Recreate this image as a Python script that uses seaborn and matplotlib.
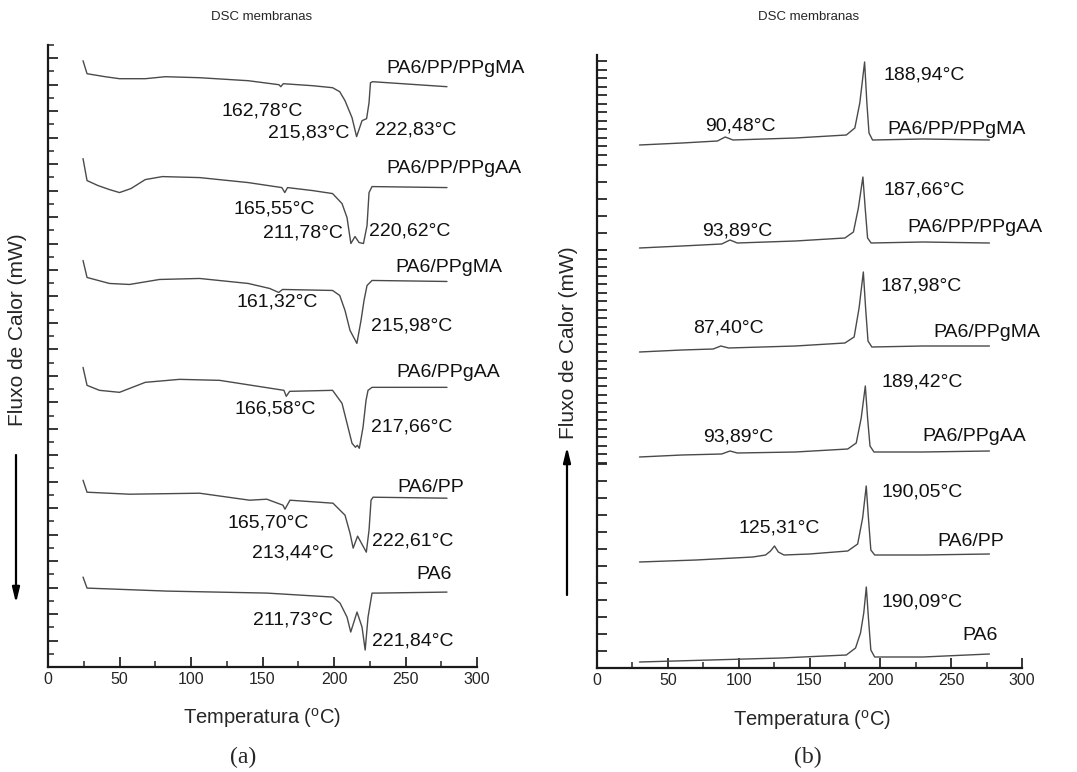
import numpy as np
import matplotlib
matplotlib.use("Agg")
import matplotlib.pyplot as plt
import seaborn as sns

# ---- (a) DSC, fusao (endotermas para baixo) ----
t_a1 = [24.5, 27.3, 40, 50, 68, 82, 106, 140, 161.5, 162.8, 164.5, 185, 199, 204, 207.7, 212.6, 215.8, 219.6, 222.8, 224.5, 225.5, 227, 279]
y_a1 = [607, 594, 591, 589, 589, 591, 590, 587, 583, 581, 584, 582, 580, 576, 567, 550, 531, 547, 549, 565, 585, 586, 581]

t_a2 = [24.5, 27.3, 35, 43, 50, 58, 68, 80, 106, 140, 163.5, 165.6, 167.5, 185, 199, 205.6, 209.1, 211.8, 214.7, 217.5, 220.6, 223.1, 224.5, 226.6, 279]
y_a2 = [509, 487, 482, 478, 475, 479, 488, 491, 490, 485, 480, 475, 480, 477, 474, 464, 450, 424, 431, 425, 424, 442, 475, 481, 480]

t_a3 = [24.5, 27.3, 43, 57, 78, 106, 140, 155, 161.3, 164, 199, 204, 207.7, 211.2, 216, 218.9, 221, 223.1, 226.6, 279]
y_a3 = [407, 390, 384, 383, 388, 389, 384, 379, 375, 378, 377, 372, 357, 337, 324, 347, 367, 382, 387, 386]

t_a4 = [24.5, 27.3, 36, 50, 68, 92, 120, 165, 166.6, 169, 199, 205.6, 209.1, 212.6, 215, 216.3, 217.7, 220.3, 222.4, 223.8, 226.6, 279]
y_a4 = [300, 282, 277, 275, 285, 288, 287, 277, 271, 276, 277, 264, 244, 224, 220, 222, 219, 240, 267, 277, 280, 280]

t_a5 = [24.5, 27.3, 57, 106, 141, 153, 164.3, 165.7, 169.2, 199.3, 207.7, 211.2, 213.4, 216.5, 222.6, 224.5, 225.9, 227.3, 279]
y_a5 = [187, 175, 173, 174, 167, 168, 162, 158, 167, 164, 152, 134, 119, 131, 115, 137, 167, 170, 169]

t_a6 = [24.5, 27.3, 83, 153, 199.3, 204.2, 209.1, 211.7, 216.1, 219.6, 221.8, 223.8, 226.6, 230.1, 279]
y_a6 = [90, 79, 76, 74, 70, 64, 50, 35, 55, 40, 17, 50, 74, 74, 75]

# ---- (b) DSC, cristalizacao (exotermas para cima) ----
t_b1 = [30, 60, 85, 90.5, 96, 140, 176, 182, 185.5, 188.9, 190.5, 192, 194.5, 230, 277]
y_b1 = [523, 525, 527, 531, 528, 530, 533, 540, 565, 606, 565, 535, 528, 529, 528]

t_b2 = [30, 60, 88, 93.9, 99, 140, 175, 181, 184.5, 187.7, 189.3, 191, 193.5, 230, 277]
y_b2 = [420, 422, 424, 428, 425, 427, 430, 436, 460, 491, 460, 430, 425, 426, 425]

t_b3 = [30, 60, 82, 87.4, 93, 140, 175, 181.5, 185, 188, 189.6, 191.3, 194, 230, 277]
y_b3 = [316, 318, 319, 322, 320, 322, 325, 331, 360, 396, 360, 327, 321, 322, 322]

t_b4 = [30, 60, 88, 93.9, 99, 140, 177, 183, 186.5, 189.4, 191, 192.7, 195.5, 230, 277]
y_b4 = [211, 213, 214, 217, 215, 216, 219, 225, 250, 282, 250, 222, 216, 216, 217]

t_b5 = [30, 70, 110, 119, 122.5, 125.3, 128, 132, 150, 177, 184, 187.5, 190.05, 191.6, 193.3, 196, 230, 277]
y_b5 = [106, 108, 111, 113, 117, 122, 116, 113, 114, 117, 124, 150, 182, 150, 118, 113, 113, 114]

t_b6 = [30, 80, 130, 176, 182.5, 186, 188.3, 190.1, 191.6, 193.3, 196, 230, 277]
y_b6 = [6, 8, 10, 13, 20, 35, 55, 81, 50, 18, 11, 11, 14]

amostras = ["PA6/PP/PPgMA", "PA6/PP/PPgAA", "PA6/PPgMA", "PA6/PPgAA", "PA6/PP", "PA6"]

# anotacoes (texto, T, y)
notas_a = [("PA6/PP/PPgMA", 285, 599), ("162,78°C", 150, 557), ("215,83°C", 182, 535), ("222,83°C", 257, 538),
           ("PA6/PP/PPgAA", 284, 499), ("165,55°C", 158, 459), ("211,78°C", 178, 435), ("220,62°C", 253, 437),
           ("PA6/PPgMA", 280, 400), ("161,32°C", 160, 365), ("215,98°C", 254.5, 341),
           ("PA6/PPgAA", 280, 295), ("166,58°C", 159, 258), ("217,66°C", 254.5, 240),
           ("PA6/PP", 268, 180), ("165,70°C", 154, 144), ("213,44°C", 171, 114), ("222,61°C", 255, 126),
           ("PA6", 270, 93), ("211,73°C", 171, 47), ("221,84°C", 255, 26)]
notas_b = [("188,94°C", 231, 593), ("90,48°C", 101, 542), ("PA6/PP/PPgMA", 254, 538),
           ("187,66°C", 231, 478), ("93,89°C", 99, 437), ("PA6/PP/PPgAA", 267, 440),
           ("187,98°C", 229, 382), ("87,40°C", 92.5, 340), ("PA6/PPgMA", 275.5, 335),
           ("189,42°C", 229.5, 286), ("93,89°C", 99.6, 231), ("PA6/PPgAA", 266, 231),
           ("190,05°C", 229.5, 176), ("125,31°C", 128.5, 140), ("PA6/PP", 264, 127),
           ("190,09°C", 229.5, 66), ("PA6", 270.5, 32)]

sns.set_style("ticks")
plt.rcParams["font.family"] = ["Liberation Sans", "DejaVu Sans"]
plt.rcParams["mathtext.fontset"] = "custom"
plt.rcParams["mathtext.rm"] = "Liberation Sans"

W, H = 1077, 772
fig = plt.figure(figsize=(W / 100, H / 100), dpi=100)
ax_a = fig.add_axes([48 / W, 1 - 667 / H, 429 / W, 622 / H])
ax_b = fig.add_axes([597 / W, 1 - 668 / H, 425 / W, 613 / H])

cor = "#4a4a4a"
curvas_a = [(t_a1, y_a1), (t_a2, y_a2), (t_a3, y_a3), (t_a4, y_a4), (t_a5, y_a5), (t_a6, y_a6)]
curvas_b = [(t_b1, y_b1), (t_b2, y_b2), (t_b3, y_b3), (t_b4, y_b4), (t_b5, y_b5), (t_b6, y_b6)]
for t, y in curvas_a:
    sns.lineplot(x=t, y=y, ax=ax_a, color=cor, linewidth=1.0, estimator=None, sort=False)
for t, y in curvas_b:
    sns.lineplot(x=t, y=y, ax=ax_b, color=cor, linewidth=1.0, estimator=None, sort=False)

for txt, x, y in notas_a:
    ax_a.text(x, y, txt, ha="center", va="center", fontsize=14, color="#111111")
for txt, x, y in notas_b:
    ax_b.text(x, y, txt, ha="center", va="center", fontsize=14, color="#111111")

ax_a.set_ylim(0, 622)
ax_b.set_ylim(0, 613)
for ax in (ax_a, ax_b):
    ax.set_xlim(0, 300)
    ax.set_xticks(np.arange(0, 301, 50))
    ax.set_xticks(np.arange(25, 300, 50), minor=True)
    ax.set_yticklabels([])
    ax.set_xlabel("")
    ax.set_ylabel("")
    for s in ("top", "right"):
        ax.spines[s].set_visible(False)
    for s in ("left", "bottom"):
        ax.spines[s].set_linewidth(1.6)
        ax.spines[s].set_color("#1a1a1a")
    ax.tick_params(axis="both", which="major", direction="in", length=7, width=1.3, labelsize=11.5)
    ax.tick_params(axis="both", which="minor", direction="in", length=4.5, width=1.1)

# eixo y: marcas como no original
ax_a.set_yticks(np.arange(0, 623, 26.5))
ax_a.set_yticks(np.arange(13.25, 623, 26.5), minor=True)
ax_a.tick_params(axis="y", which="major", labelleft=False)
yb = np.concatenate([np.arange(0, 205, 17), np.arange(205, 418, 8.5), np.arange(418, 513, 17), np.arange(513, 614, 8.5)])
ax_b.set_yticks(yb)
ax_b.set_yticklabels([])


def px(x, y):
    return (x / W, 1 - y / H)


for cx in (262, 809):
    fig.text(*px(cx, 17), "DSC membranas", ha="center", va="center", fontsize=9.5)
fig.text(*px(262, 718), r"Temperatura ($^{\mathrm{o}}$C)", ha="center", va="center", fontsize=14.5)
fig.text(*px(812, 720), r"Temperatura ($^{\mathrm{o}}$C)", ha="center", va="center", fontsize=14.5)
fig.text(*px(18, 330), "Fluxo de Calor (mW)", rotation=90, ha="center", va="center", fontsize=15)
fig.text(*px(568, 343), "Fluxo de Calor (mW)", rotation=90, ha="center", va="center", fontsize=15)
fig.text(*px(243, 757), "(a)", ha="center", va="center", fontsize=17, family="Liberation Serif")
fig.text(*px(808, 757), "(b)", ha="center", va="center", fontsize=17, family="Liberation Serif")

seta = dict(arrowstyle="-|>,head_width=0.22,head_length=0.9", color="black", lw=1.6, shrinkA=0, shrinkB=0)
ax_a.annotate("", xy=px(16, 603), xytext=px(16, 455), xycoords="figure fraction",
              textcoords="figure fraction", arrowprops=seta, annotation_clip=False)
ax_b.annotate("", xy=px(567, 447), xytext=px(567, 595), xycoords="figure fraction",
              textcoords="figure fraction", arrowprops=seta, annotation_clip=False)

fig.savefig("out.png", dpi=100, facecolor="white")
